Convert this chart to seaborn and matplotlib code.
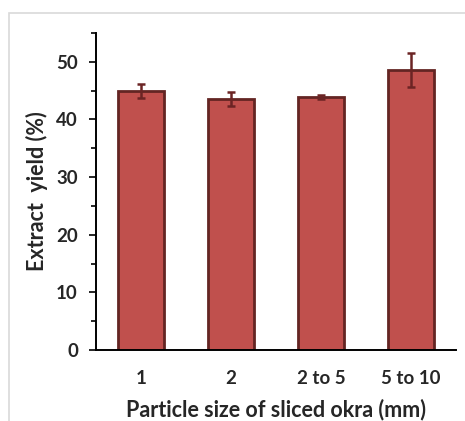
import matplotlib
matplotlib.use("Agg")
import matplotlib.pyplot as plt
import seaborn as sns
import pandas as pd
from matplotlib.ticker import MultipleLocator
from matplotlib.patches import Rectangle

sizes = ['1', '2', '2 to 5', '5 to 10']
yield_mean = [45.0, 43.6, 43.9, 48.6]
yield_err = [1.2, 1.2, 0.3, 3.0]

df = pd.DataFrame({'size': sizes, 'yield': yield_mean})

sns.set_style('white')
plt.rcParams['font.family'] = ['Lato', 'DejaVu Sans']

fig = plt.figure(figsize=(4.65, 4.21), dpi=100)
ax = fig.add_axes([0.2065, 0.1686, 0.774, 0.753])

# faint chart-area frame from the original export
fig.patches.append(Rectangle((0.0194, -0.05), 1.1, 1.019, transform=fig.transFigure,
                             fill=False, edgecolor='#d9d9d9', linewidth=1.2))

sns.barplot(ax=ax, data=df, x='size', y='yield', color='#c0504d', width=0.51,
            edgecolor='#632523', linewidth=2, saturation=1)
ax.errorbar(range(len(sizes)), yield_mean, yerr=yield_err, fmt='none',
            ecolor='#6b2424', elinewidth=1.8, capsize=2.6, capthick=1.8)

ax.set_xlim(-0.5, 3.5)
ax.set_ylim(0, 55)
ax.yaxis.set_major_locator(MultipleLocator(10))
ax.yaxis.set_minor_locator(MultipleLocator(5))

for s in ['top', 'right']:
    ax.spines[s].set_visible(False)
for s in ['left', 'bottom']:
    ax.spines[s].set_color('black')
    ax.spines[s].set_linewidth(1.4)

ax.tick_params(axis='y', which='major', left=True, length=5, width=1.4, labelsize=13.5, pad=8)
ax.tick_params(axis='y', which='minor', left=True, length=3.5, width=1.4)
ax.tick_params(axis='x', bottom=False, labelsize=13.5, pad=11)
for lab in ax.get_xticklabels() + ax.get_yticklabels():
    lab.set_fontweight('bold')

ax.set_xlabel('Particle size of sliced okra (mm)', fontsize=15.5, fontweight='bold', labelpad=8)
ax.set_ylabel('Extract  yield (%)', fontsize=15.5, fontweight='bold', labelpad=6)

fig.savefig('out.png', dpi=100)
